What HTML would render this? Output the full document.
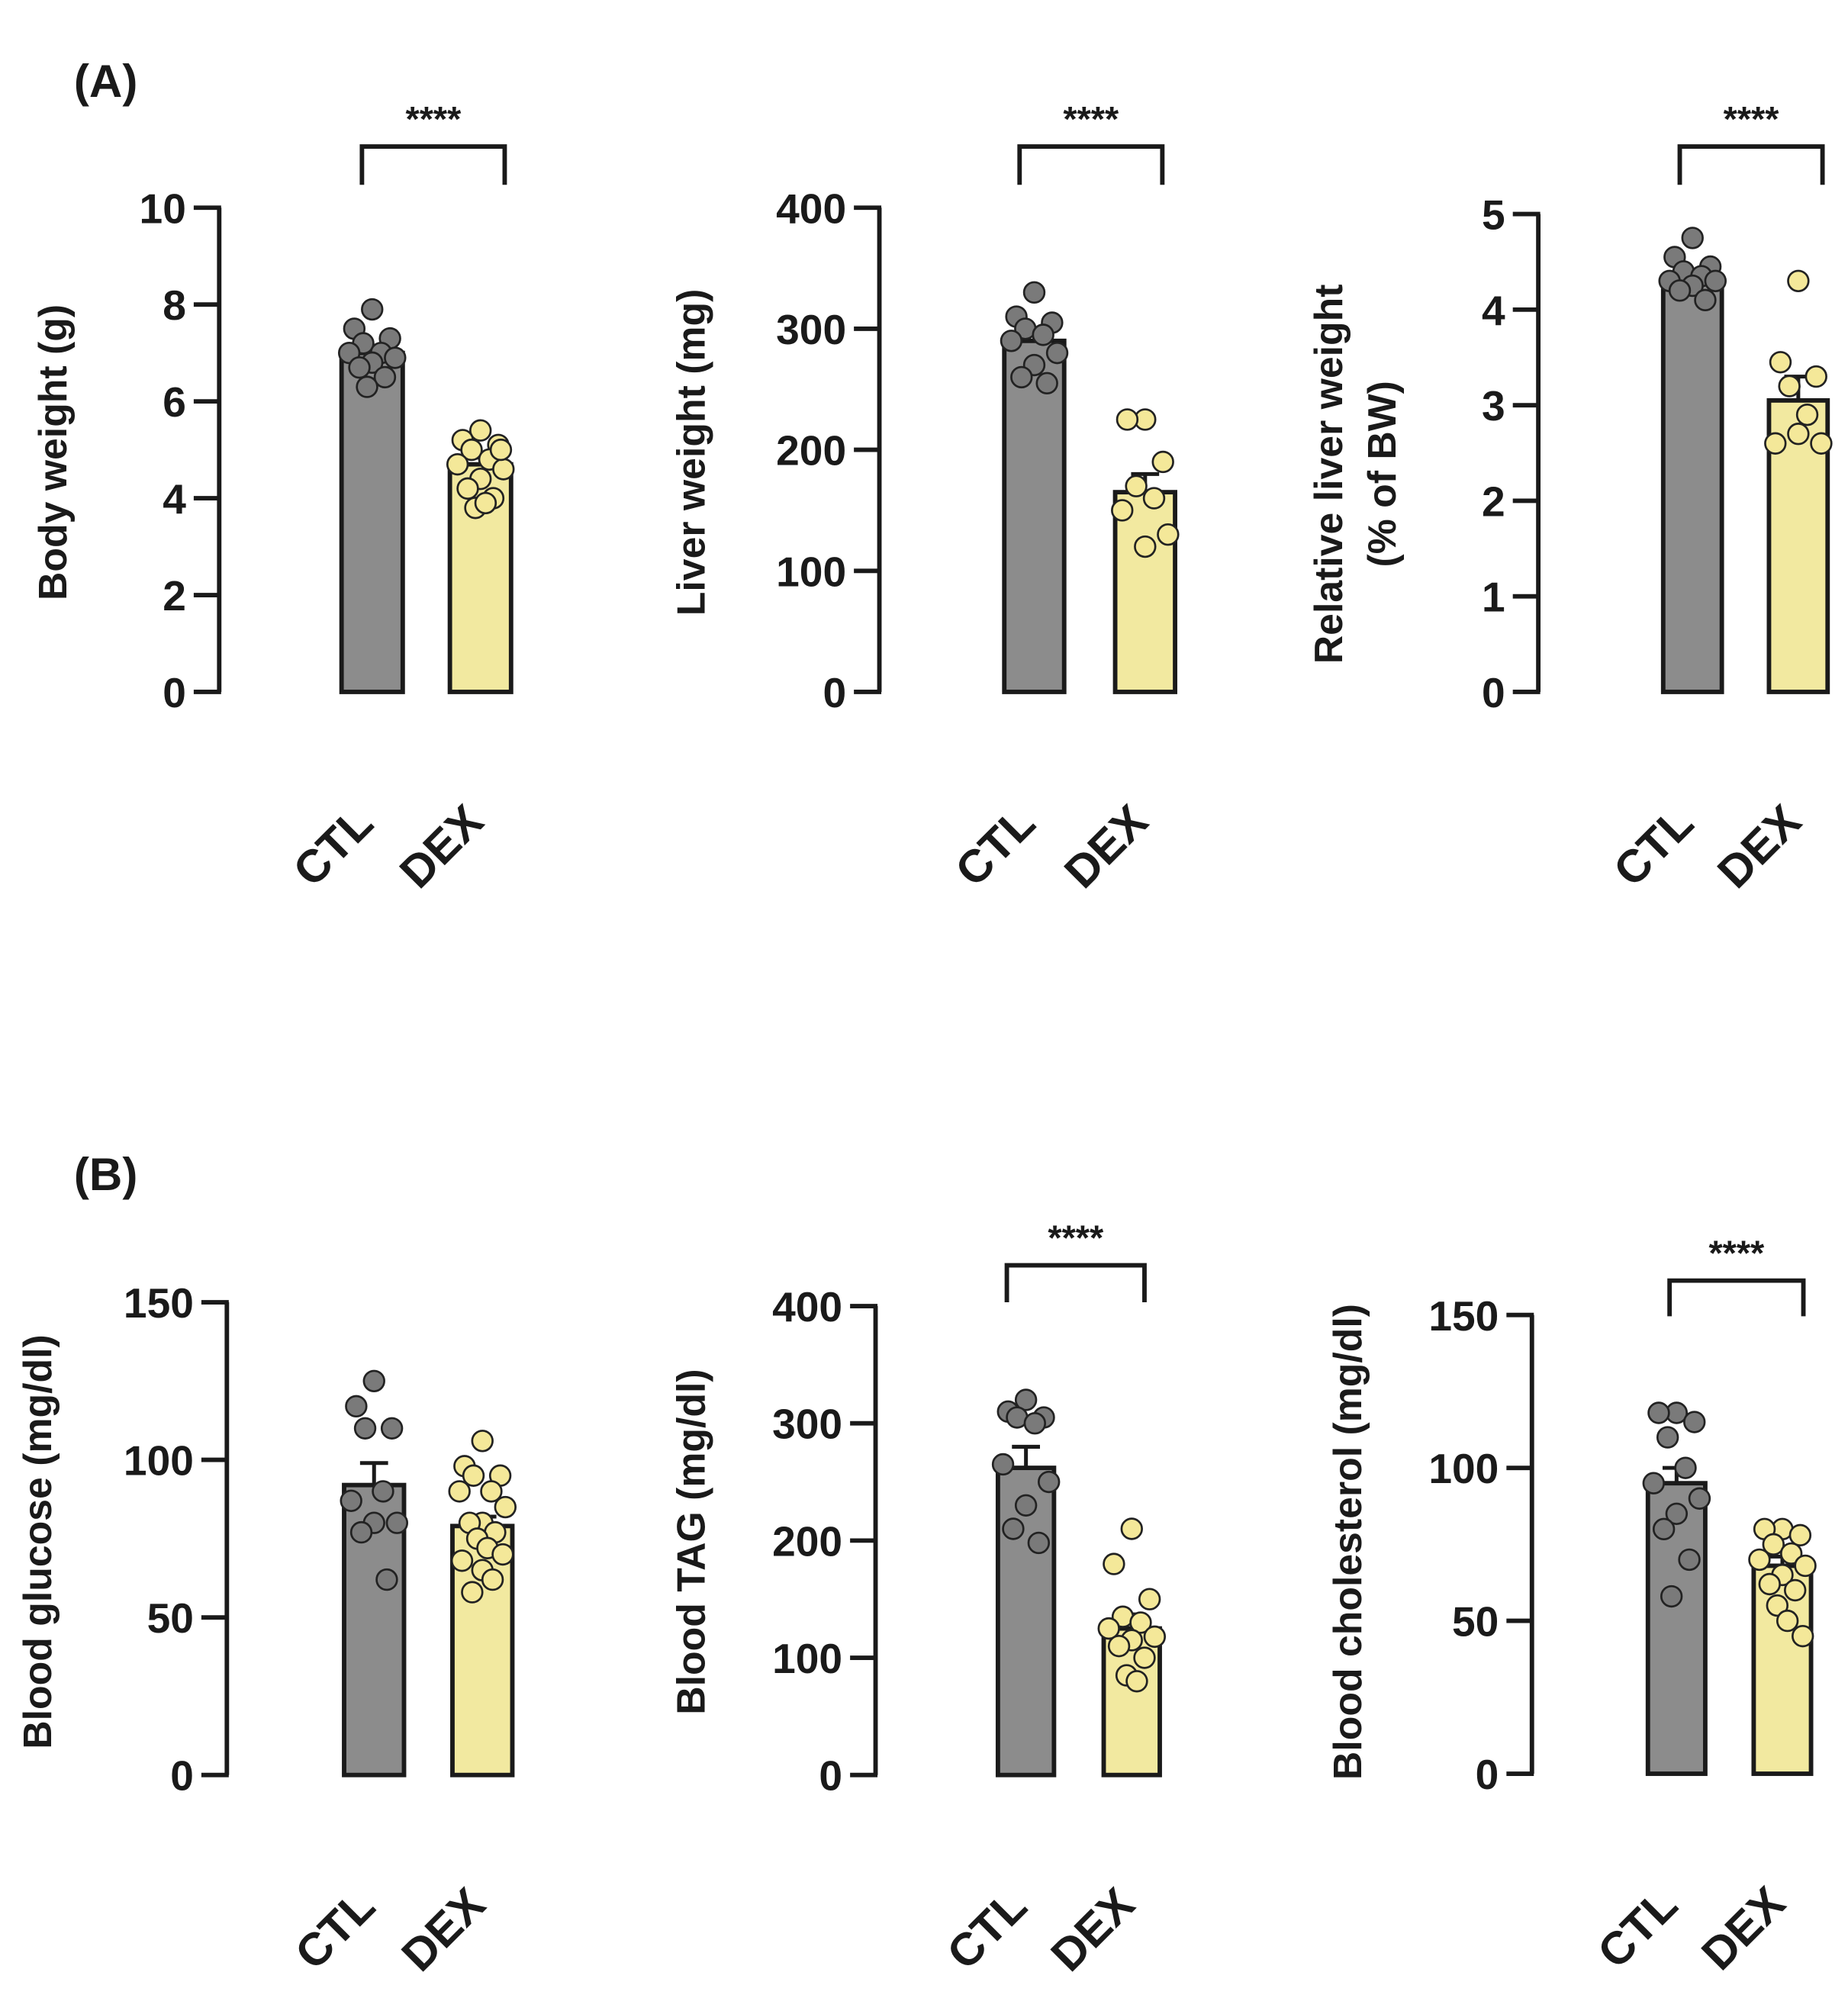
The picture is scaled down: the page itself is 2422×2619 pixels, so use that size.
<!DOCTYPE html>
<html><head><meta charset="utf-8"><style>
html,body{margin:0;padding:0;background:#fff}
svg{display:block}
text{font-family:"Liberation Sans",Arial,sans-serif;font-weight:bold;fill:#1a1a1a}
</style></head>
<body>
<svg id="fig" width="2422" height="2619" viewBox="0 0 1450 1568" preserveAspectRatio="none" xmlns="http://www.w3.org/2000/svg">
<text x="58" y="76" font-size="36">(A)</text>
<text x="58" y="934" font-size="36">(B)</text>
</svg>
<script>
const categories = ["CTL", "DEX"];
const p1Ticks = [0, 2, 4, 6, 8, 10];
const p1Means = [7.0, 4.7];
const p1Sem = [0.15, 0.14];
const p1Ctl = [7.9, 7.5, 7.3, 7.2, 7.0, 7.0, 6.9, 6.8, 6.7, 6.5, 6.3];
const p1Dex = [5.4, 5.2, 5.1, 5.0, 4.8, 4.7, 4.6, 4.4, 4.2, 4.0, 3.8, 3.9, 5.0];
const p2Ticks = [0, 100, 200, 300, 400];
const p2Means = [290, 165];
const p2Sem = [8, 15];
const p2Ctl = [330, 310, 305, 300, 295, 290, 280, 270, 260, 255];
const p2Dex = [225, 225, 190, 170, 160, 150, 130, 120];
const p3Ticks = [0, 1, 2, 3, 4, 5];
const p3Means = [4.35, 3.05];
const p3Sem = [0.06, 0.25];
const p3Ctl = [4.75, 4.55, 4.45, 4.4, 4.35, 4.3, 4.3, 4.25, 4.2, 4.1];
const p3Dex = [4.3, 3.45, 3.3, 3.2, 2.9, 2.6, 2.6, 2.7];
const p4Ticks = [0, 50, 100, 150];
const p4Means = [92, 79];
const p4Sem = [7, 3];
const p4Ctl = [125, 117, 110, 110, 90, 87, 80, 80, 77, 62];
const p4Dex = [106, 98, 95, 95, 90, 90, 85, 80, 80, 77, 75, 72, 70, 68, 65, 62, 58];
const p5Ticks = [0, 100, 200, 300, 400];
const p5Means = [262, 125];
const p5Sem = [18, 12];
const p5Ctl = [320, 310, 305, 305, 300, 265, 250, 230, 210, 198];
const p5Dex = [210, 180, 150, 135, 130, 125, 118, 115, 110, 100, 85, 80];
const p6Ticks = [0, 50, 100, 150];
const p6Means = [95, 68];
const p6Sem = [5, 3];
const p6Ctl = [118, 118, 115, 110, 100, 95, 90, 85, 80, 70, 58];
const p6Dex = [80, 80, 78, 75, 72, 70, 68, 65, 62, 60, 55, 50, 45];

const NS = "http://www.w3.org/2000/svg";
const svg = document.getElementById("fig");
function mk(tag, attrs, parent) {
  const e = document.createElementNS(NS, tag);
  for (const k in attrs) e.setAttribute(k, attrs[k]);
  (parent || svg).appendChild(e);
  return e;
}
const jit = [0, -14, 14, -7, 7, -18, 18, 0, -10, 10, -4, 4, 16, -16, 0, 8, -8];

function panel(cfg) {
  const g = mk("g", {});
  
  
  const max = cfg.ticks[cfg.ticks.length - 1];
  const y = v => cfg.y0 - (v / max) * (cfg.y0 - cfg.yTop);
  const ax = mk("line", {x1: cfg.ax, x2: cfg.ax, y1: y(max), y2: cfg.y0, stroke: "#1a1a1a", "stroke-width": 3.5}, g);
  
  
  cfg.ticks.forEach(t => {
    const tl = mk("line", {x1: cfg.ax - 20, x2: cfg.ax + 1.5, y1: y(t), y2: y(t), stroke: "#1a1a1a", "stroke-width": 3.5}, g);
    
    
    const tx = mk("text", {x: cfg.ax - 26, y: y(t) + 12, "font-size": 33, "text-anchor": "end"}, g);
    tx.textContent = t;
    
    
  });
  const lines = cfg.title;
  lines.forEach((ln, i) => {
    const tx = cfg.titleX + i * 42 - (lines.length - 1) * 21;
    const t = mk("text", {x: 0, y: 0, "font-size": 31, "text-anchor": "middle", transform: `translate(${tx},${cfg.titleY}) rotate(-90)`}, g);
    t.textContent = ln;
    
    
  });
  const fills = ["#8c8c8c", "#f2e9a0"];
  const dotFill = ["#7a7a7a", "#f4e899"];
  const pts = [cfg.ctl, cfg.dex];
  cfg.bars.forEach((bx, i) => {
    const w = cfg.bw;
    const r = mk("rect", {x: bx, y: y(cfg.means[i]), width: w, height: cfg.y0 - y(cfg.means[i]), fill: fills[i], stroke: "#1a1a1a", "stroke-width": 3.5}, g);
    
    
    const cx = bx + w / 2;
    const e1 = mk("line", {x1: cx, x2: cx, y1: y(cfg.means[i]), y2: y(cfg.means[i] + cfg.sem[i]), stroke: "#1a1a1a", "stroke-width": 3}, g);
    
    
    const e2 = mk("line", {x1: cx - 11, x2: cx + 11, y1: y(cfg.means[i] + cfg.sem[i]), y2: y(cfg.means[i] + cfg.sem[i]), stroke: "#1a1a1a", "stroke-width": 3}, g);
    
    
    pts[i].forEach((v, j) => {
      const c = mk("circle", {cx: cx + jit[j % jit.length], cy: y(v), r: 8, fill: dotFill[i], stroke: "#222", "stroke-width": 1.6}, g);
      
      
    });
    const lx = cx - 22, ly = cfg.y0 + 130;
    const lab = mk("text", {x: 0, y: 0, "font-size": 36, "text-anchor": "middle", transform: `translate(${lx},${ly}) rotate(-45)`}, g);
    lab.textContent = categories[i];
    
    
  });
  if (cfg.br) {
    const b = cfg.br;
    const p = mk("path", {d: `M${b[0]},${b[3]} V${b[2]} H${b[1]} V${b[3]}`, fill: "none", stroke: "#1a1a1a", "stroke-width": 3.5}, g);
    
    
    const s = mk("text", {x: (b[0] + b[1]) / 2, y: b[2] - 12, "font-size": 28, "text-anchor": "middle"}, g);
    s.textContent = "****";
    
    
  }
}

panel({name: "body-weight-chart", ax: 172, yTop: 163, y0: 543, ticks: p1Ticks, means: p1Means, sem: p1Sem, ctl: p1Ctl, dex: p1Dex, bars: [268, 353], bw: 48, title: ["Body weight (g)"], titleX: 52, titleY: 355, br: [284, 396, 115, 145]});
panel({name: "liver-weight-chart", ax: 690, yTop: 163, y0: 543, ticks: p2Ticks, means: p2Means, sem: p2Sem, ctl: p2Ctl, dex: p2Dex, bars: [788, 875], bw: 47, title: ["Liver weight (mg)"], titleX: 553, titleY: 355, br: [800, 912, 115, 145]});
panel({name: "relative-liver-weight-chart", ax: 1207, yTop: 168, y0: 543, ticks: p3Ticks, means: p3Means, sem: p3Sem, ctl: p3Ctl, dex: p3Dex, bars: [1305, 1388], bw: 46, title: ["Relative liver weight", "(% of BW)"], titleX: 1074, titleY: 372, br: [1318, 1430, 115, 145]});
panel({name: "blood-glucose-chart", ax: 178, yTop: 1022, y0: 1393, ticks: p4Ticks, means: p4Means, sem: p4Sem, ctl: p4Ctl, dex: p4Dex, bars: [270, 355], bw: 47, title: ["Blood glucose (mg/dl)"], titleX: 40, titleY: 1210, br: null});
panel({name: "blood-tag-chart", ax: 687, yTop: 1025, y0: 1393, ticks: p5Ticks, means: p5Means, sem: p5Sem, ctl: p5Ctl, dex: p5Dex, bars: [783, 866], bw: 44, title: ["Blood TAG (mg/dl)"], titleX: 553, titleY: 1210, br: [790, 898, 993, 1022]});
panel({name: "blood-cholesterol-chart", ax: 1202, yTop: 1032, y0: 1392, ticks: p6Ticks, means: p6Means, sem: p6Sem, ctl: p6Ctl, dex: p6Dex, bars: [1293, 1376], bw: 45, title: ["Blood cholesterol (mg/dl)"], titleX: 1068, titleY: 1210, br: [1310, 1415, 1005, 1033]});
</script>
</body></html>
